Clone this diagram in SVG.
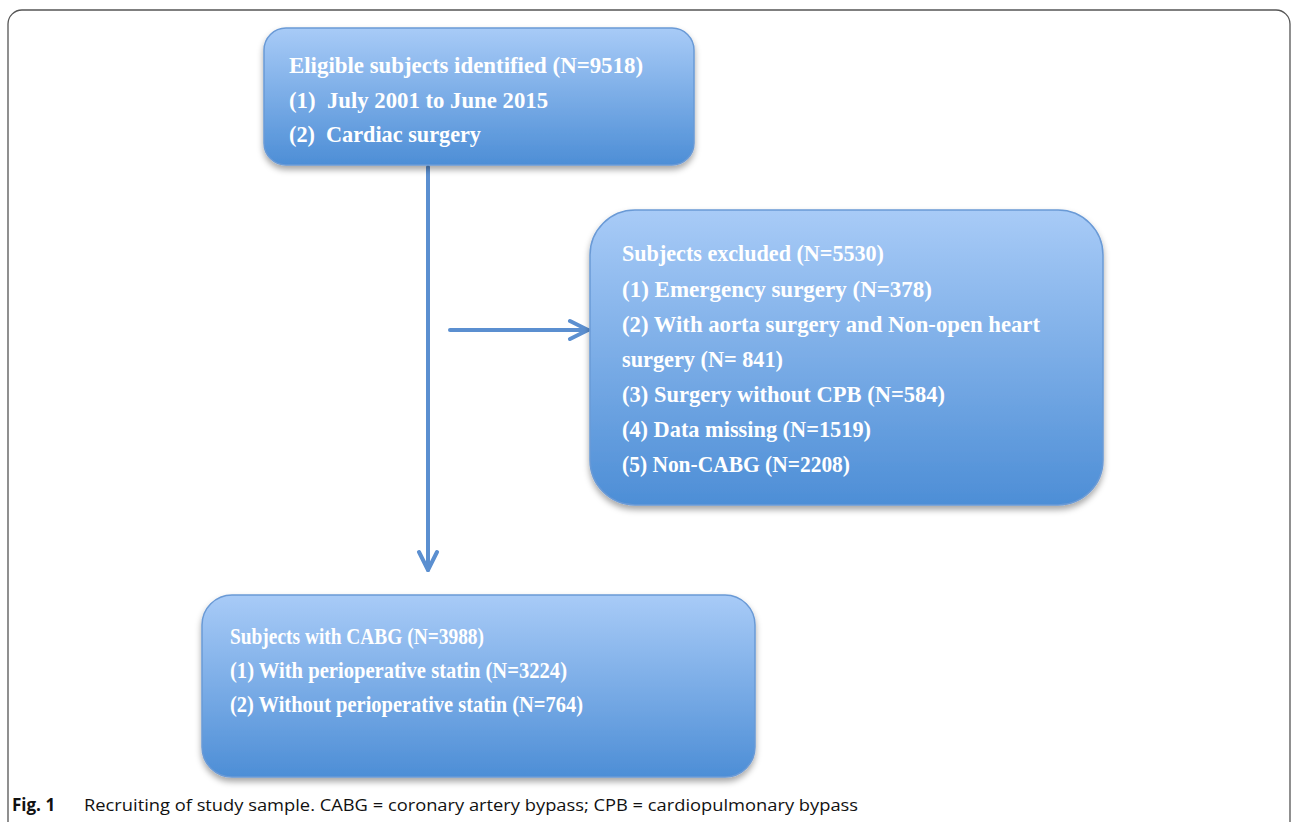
<svg xmlns="http://www.w3.org/2000/svg" width="1293" height="822" viewBox="0 0 1293 822">
<defs>
<linearGradient id="g" x1="0" y1="0" x2="0" y2="1">
<stop offset="0" stop-color="#a8cbf7"/>
<stop offset="1" stop-color="#4d8ed6"/>
</linearGradient>
<filter id="sh" x="-10%" y="-10%" width="120%" height="130%">
<feDropShadow dx="0" dy="4" stdDeviation="3" flood-color="#000" flood-opacity="0.35"/>
</filter>
<marker id="ah2" viewBox="0 0 24 24" refX="22" refY="12" markerWidth="24" markerHeight="24" markerUnits="userSpaceOnUse" orient="auto">
<path d="M4,3 L22,12 L4,21" fill="none" stroke="#5b8fd0" stroke-width="4" stroke-linecap="round" stroke-linejoin="round"/>
</marker>
</defs>
<style>
.box{fill:url(#g);stroke:#6a9ad6;stroke-width:1.5;filter:url(#sh)}
.t{font-family:"Liberation Serif","DejaVu Serif",serif;font-weight:bold;font-size:23px;fill:#ffffff}
.ln{stroke:#5b8fd0;stroke-width:4;fill:none;stroke-linecap:round}
.cap{font-family:"Open Sans","Liberation Sans",sans-serif;font-size:16px;fill:#111}
</style>
<rect x="8" y="10" width="1282" height="830" rx="14" fill="#fff" stroke="#555" stroke-width="1.3"/>
<g id="connectors">
<line class="ln" x1="428" y1="167" x2="428" y2="570" marker-end="url(#ah2)"/>
<line class="ln" x1="450" y1="330" x2="588" y2="330" marker-end="url(#ah2)"/>
</g>
<g id="node-eligible">
<rect class="box" x="264" y="28" width="430" height="137" rx="22"/>
<text class="t" x="289" y="73" textLength="354" lengthAdjust="spacingAndGlyphs">Eligible subjects identified (N=9518)</text>
<text class="t" x="289" y="108" textLength="259" lengthAdjust="spacingAndGlyphs" xml:space="preserve">(1)  July 2001 to June 2015</text>
<text class="t" x="289" y="142" textLength="192" lengthAdjust="spacingAndGlyphs" xml:space="preserve">(2)  Cardiac surgery</text>
</g>
<g id="node-excluded">
<rect class="box" x="590" y="210" width="513" height="295" rx="45"/>
<text class="t" x="622" y="261" textLength="262" lengthAdjust="spacingAndGlyphs">Subjects excluded (N=5530)</text>
<text class="t" x="622" y="297" textLength="310" lengthAdjust="spacingAndGlyphs">(1) Emergency surgery (N=378)</text>
<text class="t" x="622" y="332" textLength="418" lengthAdjust="spacingAndGlyphs">(2) With aorta surgery and Non-open heart</text>
<text class="t" x="622" y="367" textLength="161" lengthAdjust="spacingAndGlyphs">surgery (N= 841)</text>
<text class="t" x="622" y="402" textLength="323" lengthAdjust="spacingAndGlyphs">(3) Surgery without CPB (N=584)</text>
<text class="t" x="622" y="437" textLength="249" lengthAdjust="spacingAndGlyphs">(4) Data missing (N=1519)</text>
<text class="t" x="622" y="472" textLength="228" lengthAdjust="spacingAndGlyphs">(5) Non-CABG (N=2208)</text>
</g>
<g id="node-cabg">
<rect class="box" x="202" y="595" width="553" height="182" rx="30"/>
<text class="t" x="230" y="644" textLength="254" lengthAdjust="spacingAndGlyphs">Subjects with CABG (N=3988)</text>
<text class="t" x="230" y="678" textLength="337" lengthAdjust="spacingAndGlyphs">(1) With perioperative statin (N=3224)</text>
<text class="t" x="230" y="712" textLength="353" lengthAdjust="spacingAndGlyphs">(2) Without perioperative statin (N=764)</text>
</g>
<text class="cap" x="12" y="811"><tspan font-weight="bold" font-size="17">Fig. 1</tspan><tspan x="84" textLength="774" lengthAdjust="spacingAndGlyphs">Recruiting of study sample. CABG = coronary artery bypass; CPB = cardiopulmonary bypass</tspan></text>
</svg>
